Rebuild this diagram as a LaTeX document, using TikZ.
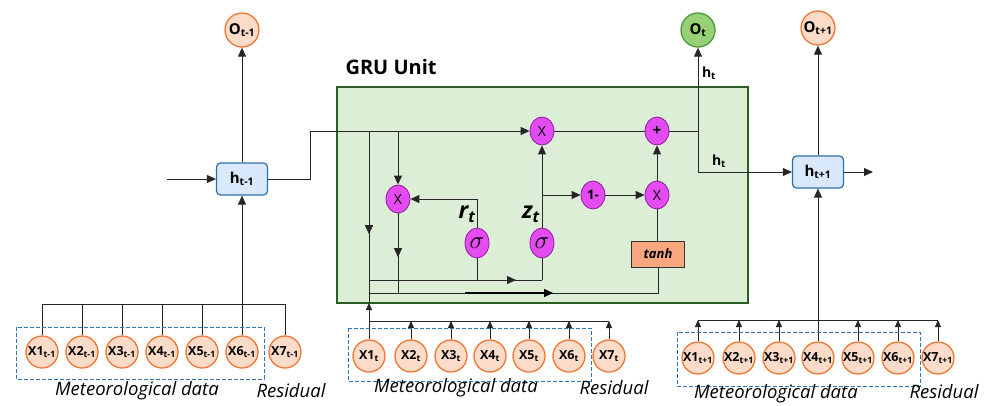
\documentclass[tikz,border=0pt]{standalone}
\usepackage{fontspec}
\setmainfont{Open Sans}
\usetikzlibrary{arrows.meta,shapes.geometric,decorations.markings}
\definecolor{orbd}{HTML}{EE7733}
\definecolor{orfill}{HTML}{FCDCC8}
\definecolor{bxbd}{HTML}{2F6FB0}
\definecolor{bxfill}{HTML}{DAE8FC}
\definecolor{grfill}{HTML}{DCEFD6}
\definecolor{grbd}{HTML}{2A5E22}
\definecolor{otfill}{HTML}{97D077}
\definecolor{otbd}{HTML}{4E9A3A}
\definecolor{magfill}{HTML}{E44CF2}
\definecolor{magbd}{HTML}{8E1E9E}
\definecolor{tanhfill}{HTML}{F8A77F}
\definecolor{dashbl}{HTML}{2E75B6}
\tikzset{
  arr/.style={-{Triangle[length=9pt,width=8pt]}},
  sarr/.style={-{Triangle[length=7pt,width=6pt]}},
  midarr/.style={postaction={decorate},decoration={markings,mark=at position #1 with {\arrow{Triangle[length=9pt,width=8pt]}}}},
  ocirc/.style={circle,draw=orbd,fill=orfill,line width=1.3pt,minimum size=34pt,inner sep=0pt,font=\fontsize{15}{17}\selectfont\bfseries},
  xcirc/.style={circle,draw=orbd,fill=orfill,line width=1.3pt,minimum size=32pt,inner sep=0pt,font=\fontsize{12.5}{14}\selectfont\bfseries},
  hbox/.style={rectangle,rounded corners=4pt,draw=bxbd,fill=bxfill,line width=1.2pt,minimum width=51pt,minimum height=32pt,inner sep=0pt,font=\fontsize{15}{17}\selectfont\bfseries},
  magn/.style={ellipse,draw=magbd,fill=magfill,line width=0.8pt,minimum width=24pt,minimum height=28pt,inner sep=0pt,font=\fontsize{14}{16}\selectfont},
  sign/.style={ellipse,draw=magbd,fill=magfill,line width=0.8pt,minimum width=24pt,minimum height=30pt,inner sep=0pt,font=\fontsize{27}{29}\selectfont},
  dbox/.style={draw=dashbl,line width=1pt,dash pattern=on 4pt off 2pt},
  lbl/.style={font=\fontsize{18.5}{20}\selectfont\itshape},
  ln/.style={line width=0.9pt,draw=black!85}
}
\begin{document}
\begin{tikzpicture}[x=1pt,y=-1pt]
\useasboundingbox (0,0) rectangle (986,405);

% GRU unit box
\node[draw=grbd,fill=grfill,line width=2pt,minimum width=411pt,minimum height=216pt,inner sep=0pt] (gru) at (542.5,195) {};
\node[font=\fontsize{20}{22}\selectfont\bfseries,anchor=west] (grut) at (342,67) {GRU Unit};

% top-level nodes
\node[ocirc] (o1) at (242,30) {O\textsubscript{t-1}};
\node[ocirc,draw=otbd,fill=otfill] (ot) at (698,30) {O\textsubscript{t}};
\node[ocirc] (o3) at (818,28) {O\textsubscript{t+1}};
\node[hbox] (h1) at (242,179) {h\textsubscript{t-1}};
\node[hbox] (h2) at (818,172) {h\textsubscript{t+1}};

% GRU internals
\node[magn] (mx1) at (542,131) {X};
\node[magn,font=\fontsize{15}{17}\selectfont\bfseries] (plus) at (657,131) {+};
\node[magn] (mxl) at (398,199) {X};
\node[magn,font=\fontsize{13}{15}\selectfont\bfseries] (one) at (593,195) {1-};
\node[magn] (mxr) at (657,195) {X};
\node[sign] (sigr) at (477,243) {$\sigma$};
\node[sign] (sigz) at (542,243) {$\sigma$};
\node[draw=black!80,fill=tanhfill,line width=1pt,minimum width=53pt,minimum height=26pt,inner sep=0pt,font=\fontsize{13}{15}\selectfont\bfseries\itshape] (tanh) at (658,254) {tanh};
\node[font=\fontsize{23}{25}\selectfont\bfseries\itshape] (rt) at (467,214) {r\textsubscript{t}};
\node[font=\fontsize{23}{25}\selectfont\bfseries\itshape] (zt) at (531,214) {z\textsubscript{t}};

% coordinates
\coordinate (in1) at (167,179);
\coordinate (k1) at (310,179);
\coordinate (jA) at (369,131);
\coordinate (gb) at (369,303);
\coordinate (jB) at (369,280);
\coordinate (jC) at (369,293);
\coordinate (jD) at (398,131);
\coordinate (jE) at (542,280);
\coordinate (jF) at (477,280);
\coordinate (jG) at (542,195);
\coordinate (jH) at (398,293);
\coordinate (k2) at (698,131);
\coordinate (k3) at (698,172);
\coordinate (out2) at (873,172);
\coordinate (tk1) at (465,293);
\coordinate (tk2) at (553,293);

% connectors
\draw[ln,arr] (in1) -- (h1.west);
\draw[ln,arr] (h1.north) -- (o1.south);
\draw[ln,arr] (h1.east) -- (k1) |- (mx1.west);
\draw[ln,midarr=0.6] (jA) -- (gb);
\draw[ln,arr] (jD) -- (mxl.north);
\draw[ln,midarr=0.55] (mxl.south) -- (jH);
\draw[ln,arr] (sigr.north) |- (mxl.east);
\draw[ln,arr] (sigz.north) -- (mx1.south);
\draw[ln,arr] (jG) -- (one.west);
\draw[ln,arr] (one.east) -- (mxr.west);
\draw[ln] (tanh.north -| mxr.south) -- (mxr.south);
\draw[ln,arr] (mxr.north) -- (plus.south);
\draw[ln] (mx1.east) -- (plus.west);
\draw[ln,midarr=0.85] (jB) -- (jE);
\draw[ln] (jE) -- (sigz.south);
\draw[ln] (jF) -- (sigr.south);
\draw[ln] (jC) -| (tanh.south);
\draw[line width=1.4pt,arr] (tk1) -- (tk2);
\draw[ln] (plus.east) -- (k2);
\draw[ln,arr] (k3) -- (ot.south);
\draw[ln,arr] (k3) -- (h2.west);
\draw[ln,arr] (h2.north) -- (o3.south);
\draw[ln,arr] (h2.east) -- (out2);
\node[font=\fontsize{14}{16}\selectfont\bfseries] (lh1) at (709,73) {h\textsubscript{t}};
\node[font=\fontsize{14}{16}\selectfont\bfseries] (lh2) at (719,161) {h\textsubscript{t}};

% ---- input row t-1
\coordinate (bus1) at (0,304);
\foreach \i/\x in {1/42,2/82,3/122,4/162,5/202,6/242,7/285}{
  \node[xcirc] (a\i) at (\x,352) {X\i\textsubscript{t-1}};
}
\draw[ln] (a1.north |- bus1) -- (a7.north |- bus1);
\foreach \i in {1,2,3,4,5,7}{ \draw[ln] (a\i.north) -- (a\i.north |- bus1); }
\draw[ln,arr] (a6.north) -- (h1.south);
\draw[dbox] (16,327) rectangle (264,379);
\node[lbl] (m1) at (137,391) {Meteorological data};
\node[lbl] (r1) at (291,391) {Residual};

% ---- input row t
\coordinate (bus2) at (0,321);
\foreach \i/\x in {1/369,2/411,3/451,4/490,5/529,6/569,7/609}{
  \node[xcirc] (b\i) at (\x,356) {X\i\textsubscript{t}};
}
\draw[ln] (b1.north |- bus2) -- (b7.north |- bus2);
\draw[ln,sarr] (b1.north) -- (gb);
\foreach \i in {2,...,7}{ \draw[ln,sarr] (b\i.north) -- (b\i.north |- bus2); }
\draw[dbox] (348,328) rectangle (591,381);
\node[lbl] (m2) at (456,388) {Meteorological data};
\node[lbl] (r2) at (614,388) {Residual};

% ---- input row t+1
\coordinate (bus3) at (0,320);
\foreach \i/\x in {1/698,2/739,3/779,4/818,5/858,6/898,7/938}{
  \node[xcirc] (c\i) at (\x,358) {X\i\textsubscript{t+1}};
}
\draw[ln] (c1.north |- bus3) -- (c7.north |- bus3);
\foreach \i in {1,2,3,5,6,7}{ \draw[ln,sarr] (c\i.north) -- (c\i.north |- bus3); }
\draw[ln,arr] (c4.north) -- (h2.south);
\draw[dbox] (677,332) rectangle (920,386);
\node[lbl] (m3) at (776,394) {Meteorological data};
\node[lbl] (r3) at (944,392) {Residual};
\end{tikzpicture}
\end{document}
